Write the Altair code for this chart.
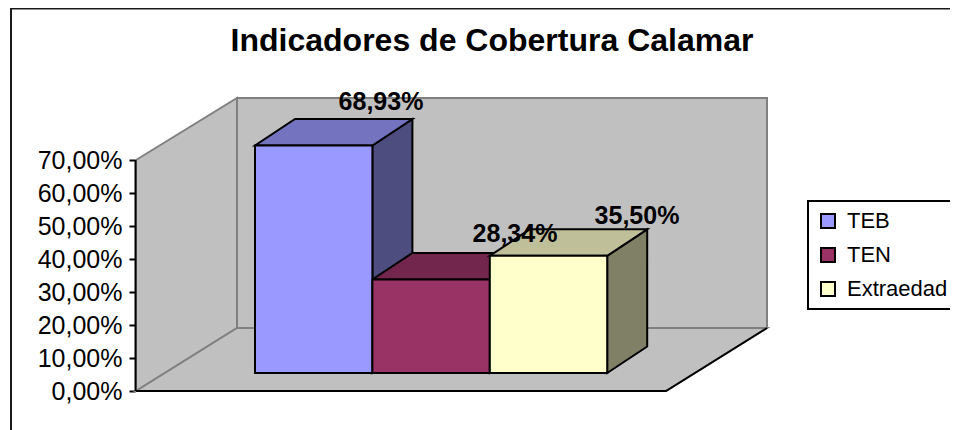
import altair as alt
import pandas as pd

# ---- chart values ----
TITLE = "Indicadores de Cobertura Calamar"
CATEGORIES = ["TEB", "TEN", "Extraedad"]
VALUES = [68.93, 28.34, 35.50]
VALUE_LABELS = ["68,93%", "28,34%", "35,50%"]
TICK_VALUES = [0, 10, 20, 30, 40, 50, 60, 70]
FRONT = ["#9999FF", "#993366", "#FFFFCC"]
TOP = ["#7373BF", "#73264D", "#BFBF99"]
SIDE = ["#4D4D80", "#4D1A33", "#808066"]

# ---- oblique projection of the box ----
PX_PER_PCT = 3.3
W, H = 942, 422
AXIS_X, FLOOR_W = 136, 530
DEPTH_X, DEPTH_Y = 101, 63 / PX_PER_PCT
TOP_PCT = 70
BAR_X0, BAR_W = 255, 117.4
BAR_BASE = 18 / PX_PER_PCT
BAR_DX, BAR_DY = 40, 26.5 / PX_PER_PCT
LABEL_POS = [(381, 87.5), (515, 47.5), (637, 53)]


def pct(page_y):
    return (391 - page_y) / PX_PER_PCT


X = alt.Scale(domain=[8, 8 + W], range=[0, W], nice=False, zero=False)
Y = alt.Scale(domain=[pct(8 + H), pct(8)], range=[H, 0], nice=False, zero=False)
Y_AXIS = alt.Axis(
    values=TICK_VALUES, offset=-(AXIS_X - 8 - 1), domain=False, grid=False,
    title=None, tickColor="black", tickSize=6, tickWidth=2,
    labelFont="Liberation Sans", labelFontSize=25, labelColor="black",
    labelPadding=7, labelFlush=False, labelOverlap=False,
    labelExpr="replace(format(datum.value, '.2f'), '.', ',') + '%'")


def poly(points, fill=None, stroke="black", width=2, closed=True):
    df = pd.DataFrame([{"x": p[0], "y": p[1], "o": i} for i, p in enumerate(points)])
    kw = dict(stroke=stroke, strokeWidth=width, strokeJoin="miter", clip=True,
              interpolate="linear-closed" if closed else "linear")
    if fill:
        kw["fill"] = fill
    return alt.Chart(df).mark_line(**kw).encode(
        x=alt.X("x:Q", scale=X, axis=None),
        y=alt.Y("y:Q", scale=Y, axis=Y_AXIS),
        order="o:Q",
    )


layers = []

# frame
layers.append(poly([(11, pct(430)), (11, pct(8.5)), (958, pct(8.5))], closed=False, stroke="#1a1a1a"))

# walls and floor
GRAY, EDGE = "#C0C0C0", "#808080"
x1, x2 = AXIS_X, AXIS_X + FLOOR_W
WALL_TOP = pct(98)
layers.append(poly([(x1, TOP_PCT), (x1 + DEPTH_X, WALL_TOP),
                    (x1 + DEPTH_X, DEPTH_Y), (x1, 0)], GRAY, EDGE))
layers.append(poly([(x1 + DEPTH_X, WALL_TOP), (x2 + DEPTH_X, WALL_TOP),
                    (x2 + DEPTH_X, DEPTH_Y), (x1 + DEPTH_X, DEPTH_Y)], GRAY, EDGE))
layers.append(poly([(x1, 0), (x1 + DEPTH_X, DEPTH_Y), (x2 + DEPTH_X, DEPTH_Y), (x2, 0)], GRAY, EDGE))
layers.append(poly([(x1, 0), (x2, 0), (x2 + DEPTH_X, DEPTH_Y)], closed=False))
layers.append(poly([(x1 - 0.5, 0), (x1 - 0.5, TOP_PCT)], closed=False))

# side and top faces
for i, v in enumerate(VALUES):
    left = BAR_X0 + i * BAR_W
    right = left + BAR_W
    t = BAR_BASE + v
    layers.append(poly([(right, BAR_BASE), (right + BAR_DX, BAR_BASE + BAR_DY),
                        (right + BAR_DX, t + BAR_DY), (right, t)], SIDE[i]))
    layers.append(poly([(left, t), (right, t), (right + BAR_DX, t + BAR_DY),
                        (left + BAR_DX, t + BAR_DY)], TOP[i]))

# front faces, which also carry the legend
fronts = pd.DataFrame({
    "serie": CATEGORIES,
    "x": [BAR_X0 + i * BAR_W for i in range(3)],
    "x2": [BAR_X0 + (i + 1) * BAR_W for i in range(3)],
    "y": [BAR_BASE] * 3,
    "y2": [BAR_BASE + v for v in VALUES],
})
layers.append(alt.Chart(fronts).mark_rect(stroke="black", strokeWidth=2).encode(
    x=alt.X("x:Q", scale=X, axis=None),
    x2="x2:Q",
    y=alt.Y("y:Q", scale=Y, axis=Y_AXIS),
    y2="y2:Q",
    color=alt.Color("serie:N",
                    scale=alt.Scale(domain=CATEGORIES, range=FRONT),
                    sort=CATEGORIES,
                    legend=alt.Legend(
                        title=None, orient="none", legendX=800, legendY=193,
                        fillColor="white", strokeColor="black", padding=9,
                        symbolType="square", symbolSize=196,
                        symbolStrokeColor="black", symbolStrokeWidth=2,
                        labelFont="Liberation Sans", labelFontSize=22,
                        labelColor="black", labelLimit=200, labelOffset=8,
                        rowPadding=12, symbolOpacity=1)),
))

# data labels
labels = pd.DataFrame({"t": VALUE_LABELS,
                       "x": [p[0] for p in LABEL_POS],
                       "y": [p[1] for p in LABEL_POS]})
layers.append(alt.Chart(labels).mark_text(
    font="Liberation Sans", fontWeight="bold", fontSize=25, color="black",
    align="center", baseline="middle").encode(
    x=alt.X("x:Q", scale=X, axis=None),
    y=alt.Y("y:Q", scale=Y, axis=Y_AXIS),
    text="t:N"))

# title
title_df = pd.DataFrame({"t": [TITLE], "x": [492], "y": [pct(41)]})
layers.append(alt.Chart(title_df).mark_text(
    font="Liberation Sans", fontWeight="bold", fontSize=32, color="black",
    align="center", baseline="middle").encode(
    x=alt.X("x:Q", scale=X, axis=None),
    y=alt.Y("y:Q", scale=Y, axis=Y_AXIS),
    text="t:N"))

chart = alt.layer(*layers).properties(
    width=W, height=H, padding=0,
    autosize=alt.AutoSizeParams(type="none"),
    background="white",
).configure_view(stroke=None).configure_legend(strokeWidth=2)

chart.save("out.html", embed_options={"renderer": "svg", "actions": False})
